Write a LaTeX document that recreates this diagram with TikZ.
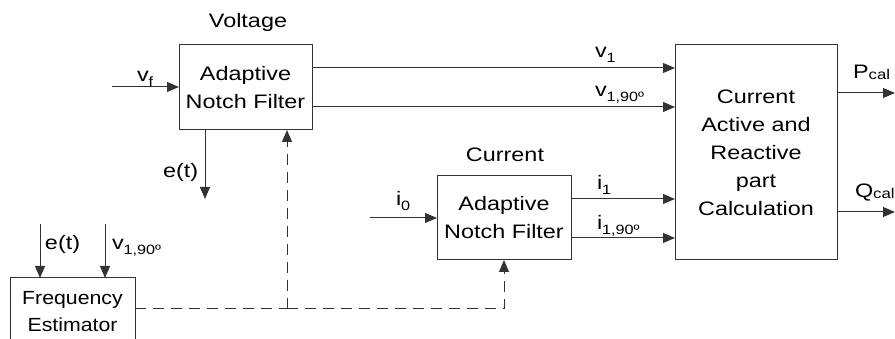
\documentclass[tikz,border=0pt]{standalone}
\usepackage{fontspec}
\setmainfont{Liberation Sans}[FakeStretch=1.2]
\newfontfamily\narrowfont{Liberation Sans}[FakeStretch=1.12]
\usetikzlibrary{arrows.meta}
\newcommand\subs[1]{\raisebox{-4.5pt}{\fontsize{13.5}{13.5}\selectfont #1}}
\newcommand\subc[1]{\raisebox{-1pt}{\fontsize{14}{14}\selectfont #1}}
\begin{document}
\begin{tikzpicture}[x=1pt,y=1pt,
  every node/.style={inner sep=0pt,outer sep=0pt},
  blockbox/.style={draw=black!80,line width=1pt,align=center,font=\fontsize{19.5}{28}\selectfont},
  lbl/.style={anchor=base west,font=\fontsize{19.5}{24}\selectfont},
  sig/.style={draw=black!80,line width=1pt,-{Triangle[length=12pt,width=10pt]}},
  dsig/.style={sig,dash pattern=on 11pt off 7pt}]
\useasboundingbox (0,0) rectangle (895,-339);
% blocks
\node[blockbox,minimum width=133pt,minimum height=85pt] (vanf) at (245.5,-87.5) {Adaptive\\Notch Filter};
\node[blockbox,minimum width=134pt,minimum height=84pt] (canf) at (504,-218) {Adaptive\\Notch Filter};
\node[blockbox,minimum width=162pt,minimum height=215pt] (calc) at (756,-152.5) {Current\\Active and\\Reactive\\part\\Calculation};
\node[blockbox,minimum width=125pt,minimum height=68pt,font=\narrowfont\fontsize{19}{27}\selectfont] (freq) at (72.5,-312) {Frequency\\Estimator};
% titles
\node[anchor=base,font=\fontsize{19.5}{24}\selectfont] (vtitle) at (248,-28) {Voltage};
\node[anchor=base,font=\fontsize{19.5}{24}\selectfont] (ctitle) at (505,-162) {Current};
% coordinates
\coordinate (vin) at (112,-87);
\coordinate (v1) at (0,-68);
\coordinate (v190) at (0,-107);
\coordinate (etend) at (205,-199);
\coordinate (iin) at (370,-218);
\coordinate (i1) at (0,-199);
\coordinate (i190) at (0,-238);
\coordinate (pend) at (895,-93);
\coordinate (qend) at (895,-212);
\coordinate (fe) at (40,-224);
\coordinate (fv) at (105,-224);
\coordinate (dy) at (0,-309);
\coordinate (dv) at (287,-309);
\coordinate (dc) at (504,-309);
% connectors
\draw[sig] (vin) -- (vin -| vanf.west);
\draw[sig] (v1 -| vanf.east) -- (v1 -| calc.west);
\draw[sig] (v190 -| vanf.east) -- (v190 -| calc.west);
\draw[sig] (etend |- vanf.south) -- (etend);
\draw[sig] (iin) -- (iin -| canf.west);
\draw[sig] (i1 -| canf.east) -- (i1 -| calc.west);
\draw[sig] (i190 -| canf.east) -- (i190 -| calc.west);
\draw[sig] (pend -| calc.east) -- (pend);
\draw[sig] (qend -| calc.east) -- (qend);
\draw[sig] (fe) -- (fe |- freq.north);
\draw[sig] (fv) -- (fv |- freq.north);
\draw[draw=black!80,line width=1pt,dash pattern=on 11pt off 7pt] (dy -| freq.east) -- (dv);
\draw[dsig] (dv) -- (dv |- vanf.south);
\draw[dsig] (dv) -- (dc) -- (canf.south);
% labels
\node[lbl] (lvf) at (137,-82) {v\subs{f}};
\node[lbl] (lv1) at (595,-58) {v\subs{1}};
\node[lbl] (lv190) at (595,-97) {v\subs{1,90º}};
\node[lbl] (let) at (163,-178) {e(t)};
\node[lbl] (lfet) at (45,-250) {e(t)};
\node[lbl] (lfv) at (112,-250) {v\subs{1,90º}};
\node[lbl] (li0) at (396,-206) {i\subs{0}};
\node[lbl] (li1) at (597,-190) {i\subs{1}};
\node[lbl] (li190) at (597,-230) {i\subs{1,90º}};
\node[lbl] (lp) at (853,-79) {P\subc{cal}};
\node[lbl] (lq) at (855,-198) {Q\subc{cal}};
\end{tikzpicture}
\end{document}
